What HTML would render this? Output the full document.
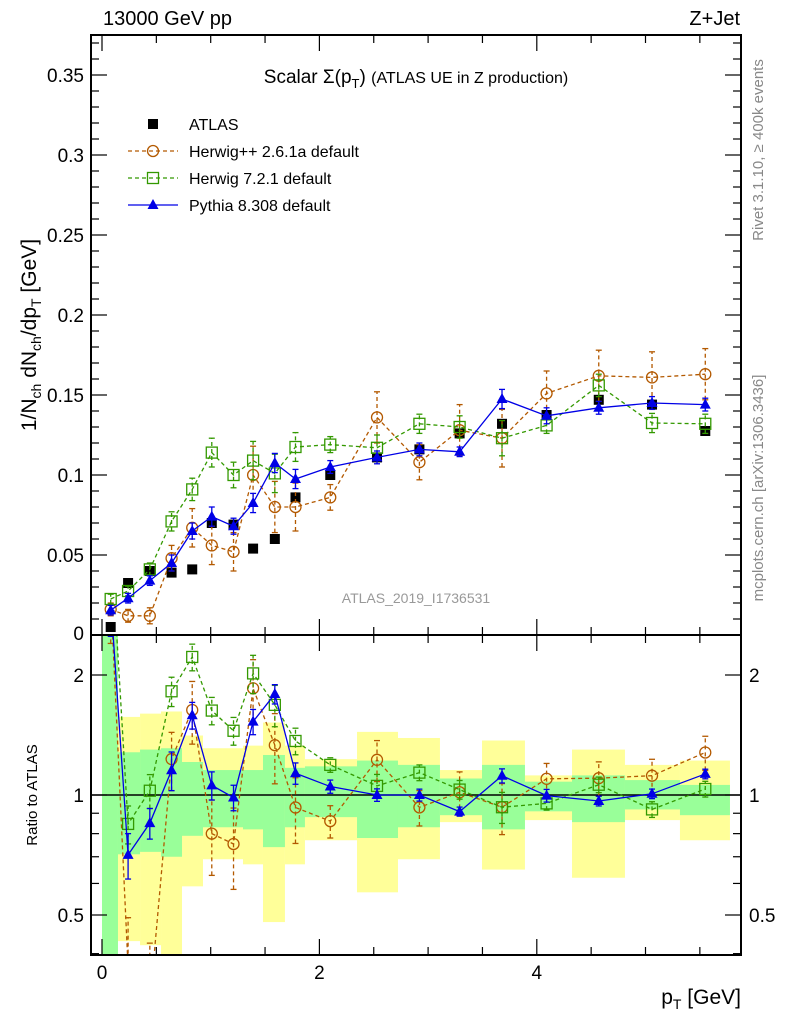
<!DOCTYPE html>
<html><head><meta charset="utf-8"><style>
html,body{margin:0;padding:0;background:#fff;width:786px;height:1024px;overflow:hidden;}
svg{display:block;font-family:"Liberation Sans",sans-serif;}
</style></head><body>
<svg id="c" width="786" height="1024" xmlns="http://www.w3.org/2000/svg"></svg>
<script>
const xCenters=[0.08,0.24,0.44,0.64,0.83,1.01,1.21,1.39,1.59,1.78,2.1,2.53,2.92,3.29,3.68,4.09,4.57,5.06,5.55];
const binEdges=[0,0.147,0.35,0.543,0.736,0.929,1.113,1.297,1.481,1.683,1.867,2.346,2.723,3.109,3.496,3.891,4.324,4.811,5.317,5.777];
const atlasVals=[0.005,0.0325,0.040,0.039,0.041,0.070,0.069,0.054,0.060,0.086,0.100,0.111,0.116,0.126,0.132,0.1375,0.147,0.144,0.1275];
const herwigppVals=[0.016,0.012,0.012,0.048,0.067,0.056,0.052,0.100,0.080,0.080,0.086,0.136,0.108,0.128,0.123,0.151,0.162,0.161,0.163];
const herwigppErr=[0.004,0.004,0.005,0.008,0.012,0.012,0.012,0.018,0.016,0.015,0.008,0.016,0.011,0.016,0.018,0.014,0.016,0.016,0.016];
const herwig7Vals=[0.0225,0.0275,0.041,0.071,0.091,0.114,0.100,0.109,0.101,0.1175,0.119,0.117,0.132,0.130,0.123,0.131,0.156,0.1325,0.132];
const herwig7Err=[0.003,0.003,0.004,0.006,0.007,0.009,0.008,0.012,0.012,0.009,0.005,0.008,0.006,0.007,0.011,0.005,0.007,0.006,0.006];
const pythiaVals=[0.0155,0.023,0.034,0.045,0.065,0.074,0.068,0.0825,0.1075,0.0975,0.105,0.111,0.116,0.1145,0.1475,0.137,0.142,0.145,0.144];
const pythiaErr=[0.003,0.003,0.003,0.005,0.005,0.006,0.005,0.006,0.006,0.006,0.004,0.004,0.004,0.003,0.006,0.005,0.004,0.004,0.004];
const greenLo=[0.3,0.71,0.72,0.70,0.79,0.83,0.83,0.82,0.74,0.83,0.88,0.78,0.83,0.89,0.82,0.91,0.855,0.92,0.89];
const greenHi=[3,1.28,1.30,1.31,1.21,1.155,1.155,1.155,1.26,1.17,1.18,1.22,1.19,1.10,1.19,1.08,1.12,1.09,1.06];
const yellowLo=[0.3,0.43,0.42,0.3,0.59,0.69,0.69,0.67,0.48,0.67,0.77,0.57,0.69,0.855,0.65,0.865,0.62,0.865,0.77];
const yellowHi=[3,1.57,1.6,1.62,1.41,1.31,1.31,1.33,1.52,1.33,1.23,1.44,1.39,1.155,1.37,1.12,1.30,1.19,1.22];
const yTicks=[0.05,0.1,0.15,0.2,0.25,0.3,0.35];
const yTickLabels=["0.05","0.1","0.15","0.2","0.25","0.3","0.35"];
const rTicks=[0.5,1,2];
const rTickLabels=["0.5","1","2"];
const xTicks=[0,2,4];

const NS="http://www.w3.org/2000/svg";
const svg=document.getElementById('c');
const L=91,R=741,T=35,MB=635,RB=955;
const X=v=>102+v*108.7;
const Y=v=>635-v*1600;
const RY=v=>795-Math.log2(v)*120;
function el(t,a,p){const e=document.createElementNS(NS,t);for(const k in a)e.setAttribute(k,a[k]);(p||svg).appendChild(e);return e;}
function txt(s,a,p){const e=el('text',a,p);e.textContent=s;return e;}
const defs=el('defs',{});
const c1=el('clipPath',{id:'cm'},defs);el('rect',{x:L,y:T,width:R-L,height:MB-T},c1);
const c2=el('clipPath',{id:'cr'},defs);el('rect',{x:L,y:MB,width:R-L,height:RB-MB},c2);
const gm=el('g',{'clip-path':'url(#cm)'});
const gr=el('g',{'clip-path':'url(#cr)'});

for(let i=0;i<xCenters.length;i++){
 const y=el('rect',{x:X(binEdges[i]),width:X(binEdges[i+1])-X(binEdges[i]),y:RY(yellowHi[i]),height:RY(yellowLo[i])-RY(yellowHi[i]),fill:'#ffff99'},gr);
 
}
for(let i=0;i<xCenters.length;i++){
 const g=el('rect',{x:X(binEdges[i]),width:X(binEdges[i+1])-X(binEdges[i]),y:RY(greenHi[i]),height:RY(greenLo[i])-RY(greenHi[i]),fill:'#99ff99'},gr);
 
}
el('line',{x1:L,x2:R,y1:RY(1),y2:RY(1),stroke:'#000','stroke-width':1.5},gr);

function marker(kind,x,y,col,p){
 if(kind==='circle')return el('circle',{cx:x,cy:y,r:5.5,fill:'none',stroke:col,'stroke-width':1.3},p);
 if(kind==='square')return el('rect',{x:x-5.5,y:y-5.5,width:11,height:11,fill:'none',stroke:col,'stroke-width':1.3},p);
 if(kind==='tri')return el('polygon',{points:`${x},${y-6} ${x-5.5},${y+4} ${x+5.5},${y+4}`,fill:col},p);
 return el('rect',{x:x-5,y:y-5,width:10,height:10,fill:col},p);
}
function series(vals,errs,col,kind,dash,name){
 const gM=el('g',{},gm);
 const gR=el('g',{},gr);
 const pm=[],pr=[];
 vals.forEach((v,i)=>{pm.push(X(xCenters[i])+','+Y(v));pr.push(X(xCenters[i])+','+RY(v/atlasVals[i]));});
 el('polyline',{points:pm.join(' '),fill:'none',stroke:col,'stroke-width':1.3,'stroke-dasharray':dash},gM);
 el('polyline',{points:pr.join(' '),fill:'none',stroke:col,'stroke-width':1.3,'stroke-dasharray':dash},gR);
 vals.forEach((v,i)=>{
  const x=X(xCenters[i]);
  [[gM,Y(v-errs[i]),Y(v+errs[i]),Y(v)],[gR,RY(Math.max(v-errs[i],1e-4)/atlasVals[i]),RY((v+errs[i])/atlasVals[i]),RY(v/atlasVals[i])]].forEach(([g,a,b,c])=>{
   el('line',{x1:x,x2:x,y1:a,y2:b,stroke:col,'stroke-width':1.3,'stroke-dasharray':dash},g);
   el('line',{x1:x-3,x2:x+3,y1:a,y2:a,stroke:col,'stroke-width':1.3},g);
   el('line',{x1:x-3,x2:x+3,y1:b,y2:b,stroke:col,'stroke-width':1.3},g);
   const m=marker(kind,x,c,col,g);
   
   
  });
 });
}
atlasVals.forEach((v,i)=>{const m=marker('sq',X(xCenters[i]),Y(v),'#000',gm);
 
 });
series(herwigppVals,herwigppErr,'#b35900','circle','4,3','herwigpp');
series(herwig7Vals,herwig7Err,'#339900','square','4,3','herwig7');
series(pythiaVals,pythiaErr,'#0000e6','tri','','pythia');

el('rect',{x:L,y:T,width:R-L,height:MB-T,fill:'none',stroke:'#000','stroke-width':2});
el('rect',{x:L,y:MB,width:R-L,height:RB-MB,fill:'none',stroke:'#000','stroke-width':2});
for(let v=0.01;v<0.375;v+=0.01){const maj=Math.abs(v/0.05-Math.round(v/0.05))<1e-6;const l=maj?16:8;
 el('line',{x1:L,x2:L+l,y1:Y(v),y2:Y(v),stroke:'#000','stroke-width':1.2});
 el('line',{x1:R,x2:R-l,y1:Y(v),y2:Y(v),stroke:'#000','stroke-width':1.2});}
yTicks.forEach((v,i)=>{const t=txt(yTickLabels[i],{x:L-7,y:Y(v)+7,'text-anchor':'end','font-size':19});
 });
txt('0',{x:L-7,y:640,'text-anchor':'end','font-size':19});
[0.4,0.5,0.6,0.7,0.8,0.9,1,2].forEach(v=>{const maj=rTicks.includes(v);const l=maj?16:8;
 el('line',{x1:L,x2:L+l,y1:RY(v),y2:RY(v),stroke:'#000','stroke-width':1.2});
 el('line',{x1:R,x2:R-l,y1:RY(v),y2:RY(v),stroke:'#000','stroke-width':1.2});});
rTicks.forEach((v,i)=>{
 const a=txt(rTickLabels[i],{x:L-7,y:RY(v)+7,'text-anchor':'end','font-size':19});
 const b=txt(rTickLabels[i],{x:R+8,y:RY(v)+7,'font-size':19});});
for(let v=0;v<=5.8;v+=0.5){const maj=xTicks.includes(v);const l=maj?16:8;
 [[MB,T],[RB,MB]].forEach(([b,t])=>{
  el('line',{x1:X(v),x2:X(v),y1:b,y2:b-l,stroke:'#000','stroke-width':1.2});
  el('line',{x1:X(v),x2:X(v),y1:t,y2:t+l,stroke:'#000','stroke-width':1.2});});}
xTicks.forEach(v=>{const t=txt(String(v),{x:X(v),y:979,'text-anchor':'middle','font-size':19});});

let t;
t=txt('13000 GeV pp',{x:103,y:25,'font-size':20});
t=txt('Z+Jet',{x:740,y:25,'text-anchor':'end','font-size':20});
t=el('text',{x:416,y:83,'text-anchor':'middle','font-size':19});t.innerHTML='Scalar Σ(p<tspan font-size="13" dy="5">T</tspan><tspan dy="-5">)</tspan> <tspan font-size="16">(ATLAS UE in Z production)</tspan>';

t=el('text',{x:0,y:0,'font-size':21,transform:'translate(36,335) rotate(-90)','text-anchor':'middle'});
t.innerHTML='1/N<tspan font-size="14" dy="5">ch</tspan><tspan dy="-5"> dN</tspan><tspan font-size="14" dy="5">ch</tspan><tspan dy="-5">/dp</tspan><tspan font-size="14" dy="5">T</tspan><tspan dy="-5"> [GeV]</tspan>';

t=txt('Ratio to ATLAS',{x:0,y:0,'font-size':15,transform:'translate(37,795) rotate(-90)','text-anchor':'middle'});
t=el('text',{x:741,y:1004,'text-anchor':'end','font-size':21});t.innerHTML='p<tspan font-size="14" dy="5">T</tspan><tspan dy="-5"> [GeV]</tspan>';

t=txt('Rivet 3.1.10, ≥ 400k events',{x:0,y:0,'font-size':15,fill:'#888',transform:'translate(763,150) rotate(-90)','text-anchor':'middle'});
t=txt('mcplots.cern.ch [arXiv:1306.3436]',{x:0,y:0,'font-size':15,fill:'#888',transform:'translate(763,488) rotate(-90)','text-anchor':'middle'});
t=txt('ATLAS_2019_I1736531',{x:416,y:603,'font-size':14,fill:'#999','text-anchor':'middle'});

const lg=el('g',{});
const leg=[['ATLAS','#000','sq',''],['Herwig++ 2.6.1a default','#b35900','circle','4,3'],['Herwig 7.2.1 default','#339900','square','4,3'],['Pythia 8.308 default','#0000e6','tri','']];
leg.forEach((d,i)=>{const y=124+i*27;const g=el('g',{},lg);
 
 if(i>0)el('line',{x1:128,x2:178,y1:y,y2:y,stroke:d[1],'stroke-width':1.3,'stroke-dasharray':d[3]},g);
 marker(d[2],153,y,d[1],g);
 txt(d[0],{x:189,y:y+6,'font-size':16},g);});
</script>
</body></html>
